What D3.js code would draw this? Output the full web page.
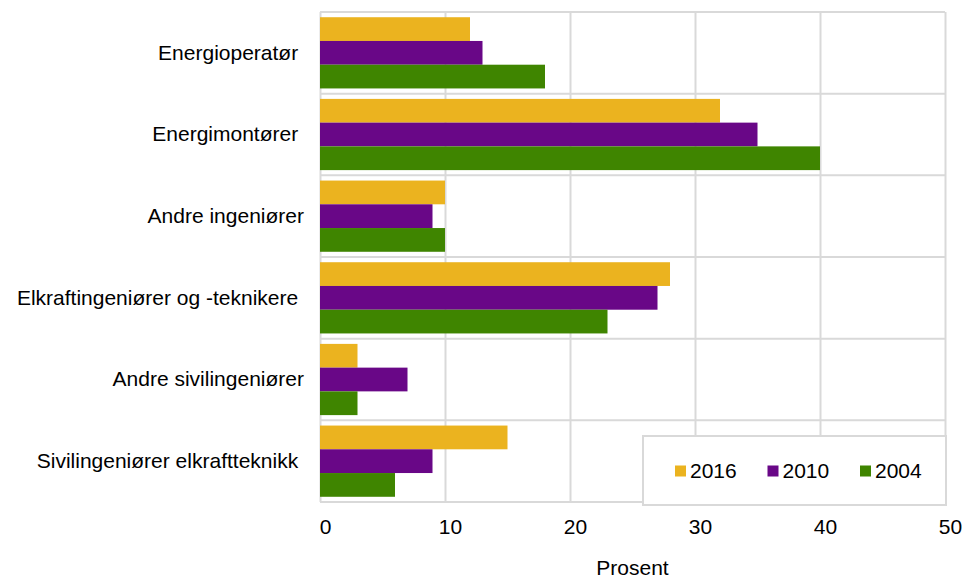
<!DOCTYPE html>
<html>
<head>
<meta charset="utf-8">
<script src="https://cdn.jsdelivr.net/npm/d3@7"></script>
<style>
  body { margin: 0; background: #fff; }
  text { font-family: "Liberation Sans", Arial, sans-serif; fill: #000; }
</style>
</head>
<body>
<div id="chart"></div>
<script>
/* D3 grouped horizontal bar chart */

const categories = [
  "Energioperatør ",
  "Energimontører ",
  "Andre ingeniører",
  "Elkraftingeniører og -teknikere ",
  "Andre sivilingeniører",
  "Sivilingeniører elkraftteknikk "
];
const years = ["2016", "2010", "2004"];
const values2016 = [12, 32, 10, 28, 3, 15];
const values2010 = [13, 35, 9, 27, 7, 9];
const values2004 = [18, 40, 10, 23, 3, 6];
const xTicks = [0, 10, 20, 30, 40, 50];
const colors = ["#ebb31f", "#690787", "#3f8500"];

const height = 579,
    width = 963,
    margin = ({top: 12, right: 18, bottom: 77, left: 320});

const series = [values2016, values2010, values2004];
const data = categories.map((c, i) => ({
  cat: c,
  vals: years.map((yr, j) => ({year: yr, value: series[j][i]}))
}));

const svg = d3.select("#chart")
    .append("svg")
    .attr("width", width)
    .attr("height", height);

let x = d3.scaleLinear()
    .domain([0, 50])
    .range([margin.left, width - margin.right]);

let y = d3.scaleBand()
    .domain(categories)
    .range([margin.top, height - margin.bottom]);

let y1 = d3.scaleBand()
    .domain(years)
    .range([0, y.bandwidth()])
    .paddingOuter(0.22);

let color = d3.scaleOrdinal().domain(years).range(colors);

// vertical grid + tick labels
let xAxis = svg.append("g")
    .attr("transform", `translate(0,${height - margin.bottom})`)
    .call(d3.axisBottom(x)
      .tickValues(xTicks)
      .tickSize(-(height - margin.top - margin.bottom))
      .tickSizeOuter(0)
      .tickPadding(17));
xAxis.select(".domain").remove();
xAxis.selectAll("line").attr("stroke", "#d9d9d9").attr("stroke-width", 2);
xAxis.selectAll("text")
    .attr("dx", 5)
    .style("font-size", "21px");

// horizontal band lines
let bounds = categories.map(c => y(c)).concat([height - margin.bottom]);
svg.append("g")
  .selectAll("line")
  .data(bounds)
  .join("line")
    .attr("x1", margin.left)
    .attr("x2", width - margin.right)
    .attr("y1", d => d)
    .attr("y2", d => d)
    .attr("stroke", "#d9d9d9")
    .attr("stroke-width", 2);

// bars
svg.append("g")
  .selectAll("g")
  .data(data)
  .join("g")
    .attr("transform", d => `translate(0,${y(d.cat)})`)
  .selectAll("rect")
  .data(d => d.vals)
  .join("rect")
    .attr("x", x(0))
    .attr("y", d => y1(d.year))
    .attr("width", d => x(d.value) - x(0))
    .attr("height", y1.bandwidth())
    .attr("fill", d => color(d.year));

// category labels
let yAxis = svg.append("g")
    .attr("transform", `translate(${margin.left},0)`)
    .call(d3.axisLeft(y).tickSize(0).tickPadding(16));
yAxis.select(".domain").remove();
yAxis.selectAll("text")
    .style("font-size", "21px")
    .style("white-space", "pre");

// x label
svg.append("text")
    .attr("text-anchor", "middle")
    .attr("x", (margin.left + width - margin.right) / 2)
    .attr("y", 575)
    .style("font-size", "21px")
    .text("Prosent");

// legend
let legend = svg.append("g");
legend.append("rect")
    .attr("x", 643)
    .attr("y", 436)
    .attr("width", 303)
    .attr("height", 69)
    .attr("fill", "#fff")
    .attr("stroke", "#d9d9d9")
    .attr("stroke-width", 2);

let item = legend.selectAll("g")
  .data(years)
  .join("g")
    .attr("transform", (d, i) => `translate(${675 + i * 92.5},0)`);
item.append("rect")
    .attr("y", 465.5)
    .attr("width", 11)
    .attr("height", 11)
    .attr("fill", d => color(d));
item.append("text")
    .attr("x", 15)
    .attr("y", 471)
    .attr("dy", "0.35em")
    .style("font-size", "21px")
    .text(d => d);
</script>
</body>
</html>
